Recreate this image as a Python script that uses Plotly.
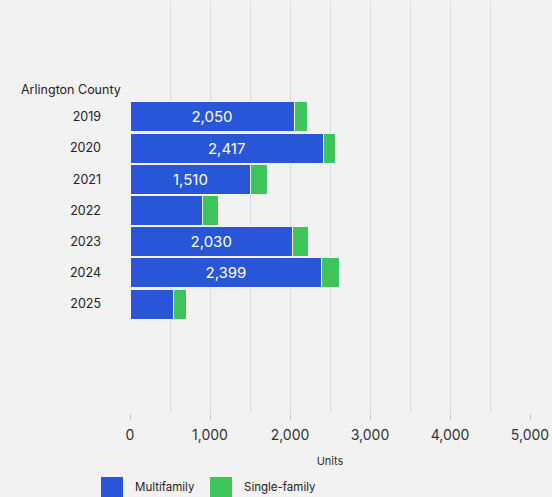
import plotly.graph_objects as go

# Housing units delivered, Arlington County
years = ["2019", "2020", "2021", "2022", "2023", "2024", "2025"]
multifamily = [2050, 2417, 1510, 900, 2030, 2399, 540]
single_family = [170, 155, 205, 205, 195, 215, 165]
series_names = ["Multifamily", "Single-family"]
x_ticks = [0, 1000, 2000, 3000, 4000, 5000]
x_tick_labels = ["0", "1,000", "2,000", "3,000", "4,000", "5,000"]

BLUE = "#2856d8"
GREEN = "#3dc45b"
BG = "#f2f2f2"
FONT = "Inter, Roboto, sans-serif"

W, H = 552, 497
ML, MR, MT, MB = 130, 22, 2, 84
PW, PH = W - ML - MR, H - MT - MB


def px_to_paper_x(px):
    return (px - ML) / PW


def px_to_paper_y(py):
    return (H - MB - py) / PH


# Value labels only on bars wide enough to hold them
mf_labels = [f"{v:,}" if v >= 1500 else "" for v in multifamily]

fig = go.Figure()
fig.add_trace(go.Bar(
    y=years, x=multifamily, orientation="h", name=series_names[0],
    marker=dict(color=BLUE, line=dict(color="#f4f4f4", width=1)),
    text=mf_labels, textposition="inside", insidetextanchor="middle",
    textfont=dict(color="white", size=15, family=FONT),
    showlegend=False,
))
fig.add_trace(go.Bar(
    y=years, x=single_family, orientation="h", name=series_names[1],
    marker=dict(color=GREEN, line=dict(color="#f4f4f4", width=1)),
    showlegend=False,
))

fig.update_layout(
    width=W, height=H,
    barmode="stack", bargap=0.04,
    paper_bgcolor=BG, plot_bgcolor=BG,
    margin=dict(l=ML, r=MR, t=MT, b=MB),
    font=dict(family=FONT, color="#333333"),
    xaxis=dict(
        range=[0, 5000], tickvals=x_ticks, ticktext=x_tick_labels,
        showgrid=True, gridcolor="#dcdcdc", gridwidth=1,
        minor=dict(dtick=500, showgrid=True, gridcolor="#dcdcdc", gridwidth=1),
        ticks="outside", ticklen=6, tickcolor="#c4c4c4",
        ticklabelstandoff=3,
        tickfont=dict(size=14, color="#333333"),
        zeroline=False, showline=False,
        title=dict(text="Units", font=dict(size=11, color="#333333"), standoff=15),
    ),
    yaxis=dict(
        type="category", categoryorder="array", categoryarray=years,
        range=[9.49, -3.68], showgrid=False, zeroline=False, showline=False,
        ticks="", tickfont=dict(size=12.5, color="#222222"),
        ticklabelstandoff=28,
    ),
)

# Group header above the year rows
fig.add_annotation(
    text="Arlington County", xref="paper", yref="y", x=0, y=-0.88,
    xanchor="right", yanchor="middle", xshift=-7, showarrow=False,
    font=dict(size=12.5, color="#222222", family=FONT),
)

# Legend swatches with labels
legend_items = [(series_names[0], BLUE, 101, 133), (series_names[1], GREEN, 210, 242)]
for name, color, sx, tx in legend_items:
    fig.add_shape(
        type="rect", xref="paper", yref="paper",
        x0=px_to_paper_x(sx), x1=px_to_paper_x(sx + 22),
        y0=px_to_paper_y(477), y1=px_to_paper_y(499),
        fillcolor=color, line=dict(width=0), layer="above",
    )
    fig.add_annotation(
        text=name, xref="paper", yref="paper",
        x=px_to_paper_x(tx), y=px_to_paper_y(487),
        xanchor="left", yanchor="middle", showarrow=False,
        font=dict(size=11.5, color="#222222", family=FONT),
    )

fig.write_html("out.html")
